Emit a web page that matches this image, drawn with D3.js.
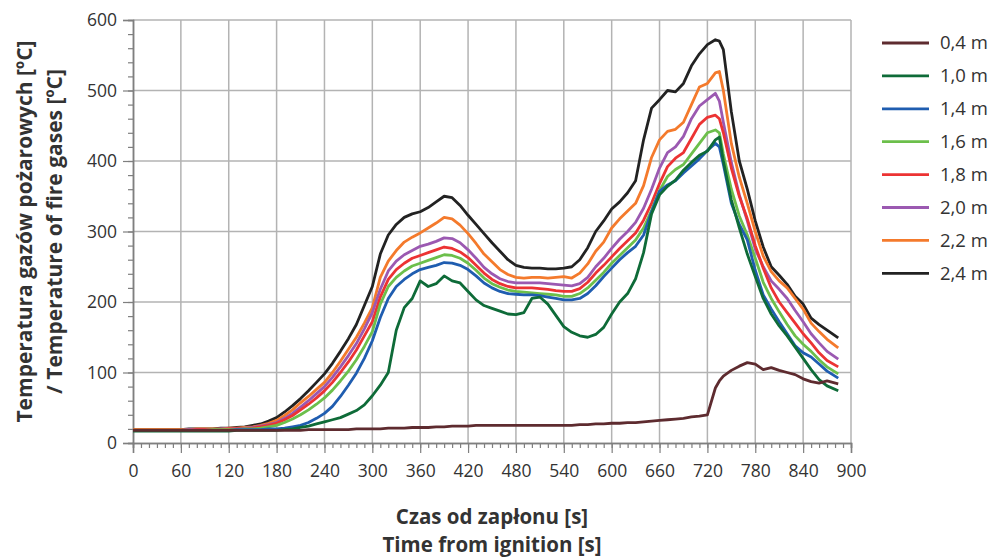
<!DOCTYPE html>
<html>
<head>
<meta charset="utf-8">
<script src="https://cdn.jsdelivr.net/npm/d3@7"></script>
<style>
  body { margin: 0; background: #fff; }
  svg text { font-family: 'Open Sans', 'Noto Sans', sans-serif; fill: #333; }
</style>
</head>
<body>
<div id="chart"></div>
<script>
// time samples [s]
const times = [
  0, 10, 20, 30, 40, 50, 60, 70, 80, 90, 100, 110, 120, 130, 140,
  150, 160, 170, 180, 190, 200, 210, 220, 230,
  240, 250, 260, 270, 280, 290, 300, 310, 320, 330,
  340, 350, 360, 370, 380, 390, 400, 410, 420, 430,
  440, 450, 460, 470, 480, 490, 500, 510, 520, 530,
  540, 550, 560, 570, 580, 590, 600, 610, 620, 630,
  640, 650, 660, 670, 680, 690, 700, 710, 720, 730, 735,
  740, 750, 760, 770, 780, 790, 800, 810, 820, 830, 840, 850, 860, 870, 884
]

const seriesNames = ['0,4 m', '1,0 m', '1,4 m', '1,6 m', '1,8 m', '2,0 m', '2,2 m', '2,4 m']
const seriesColors = ['#5e2b2f', '#0e6b38', '#1f5db0', '#6cbf4b', '#ec3333', '#9b59b1', '#f47a2c', '#222222']

const t04 = [
  18, 18, 18, 18, 18, 18, 18, 18, 18, 18, 18, 18, 18, 18, 18,
  18, 18, 18, 18, 18, 18, 18, 19, 19,
  19, 19, 19, 19, 20, 20, 20, 20, 21, 21,
  21, 22, 22, 22, 23, 23, 24, 24, 24, 25,
  25, 25, 25, 25, 25, 25, 25, 25, 25, 25,
  25, 25, 26, 26, 27, 27, 28, 28, 29, 29,
  30, 31, 32, 33, 34, 35, 37, 38, 40, 78, 88,
  95, 103, 109, 114, 112, 104, 107, 103, 100, 97, 91, 87, 85, 88, 84
]
const t10 = [
  17, 17, 17, 17, 17, 17, 17, 17, 17, 17, 17, 17, 17, 18, 18,
  18, 18, 18, 18, 19, 20, 22, 24, 27,
  30, 33, 36, 41, 46, 54, 67, 82, 100, 160,
  192, 205, 230, 222, 226, 237, 230, 227, 215, 203,
  195, 191, 187, 183, 182, 185, 205, 207, 197, 181,
  165, 157, 152, 150, 154, 164, 183, 200, 212, 233,
  270, 325, 352, 364, 373, 387, 398, 408, 414, 430, 434,
  400, 345, 305, 268, 236, 205, 183, 166, 152, 136, 120, 104, 90, 81, 74
]
const t14 = [
  18, 18, 18, 18, 18, 18, 18, 18, 18, 18, 18, 18, 18, 19, 19,
  19, 19, 20, 20, 21, 23, 25, 29, 35,
  42, 52, 66, 82, 99, 120, 145, 178, 205, 222,
  232, 240, 246, 249, 252, 256, 255, 252, 246, 237,
  227, 220, 215, 212, 211, 210, 210, 209, 207, 205,
  203, 203, 205, 212, 223, 236, 248, 260, 270, 279,
  295, 328, 357, 366, 372, 383, 393, 403, 415, 425, 420,
  395, 340, 310, 288, 245, 210, 190, 172, 155, 138, 128, 122, 112, 102, 92
]
const t16 = [
  18, 18, 18, 18, 18, 18, 18, 18, 18, 18, 19, 19, 19, 19, 20,
  20, 21, 23, 25, 29, 34, 40, 47, 55,
  64, 75, 88, 102, 118, 137, 158, 197, 222, 235,
  244, 251, 255, 259, 263, 267, 266, 262, 255, 245,
  234, 226, 221, 217, 215, 214, 213, 212, 211, 210,
  208, 208, 212, 220, 231, 242, 255, 266, 277, 288,
  305, 330, 358, 378, 388, 395, 410, 425, 440, 444, 440,
  410, 360, 322, 295, 262, 228, 205, 186, 168, 152, 140, 130, 118, 108, 98
]
const t18 = [
  18, 18, 18, 18, 18, 18, 18, 18, 19, 19, 19, 19, 20, 20, 20,
  21, 23, 25, 28, 33, 39, 47, 55, 64,
  74, 86, 100, 115, 132, 152, 172, 207, 232, 246,
  255, 262, 266, 270, 274, 278, 276, 271, 263, 252,
  241, 232, 226, 222, 220, 220, 220, 219, 218, 216,
  215, 215, 219, 228, 241, 252, 264, 276, 287, 298,
  316, 340, 368, 392, 404, 412, 432, 452, 462, 465, 460,
  440, 390, 350, 318, 280, 248, 220, 200, 185, 170, 155, 142, 128, 117, 108
]
const t20 = [
  18, 18, 18, 18, 18, 18, 18, 19, 19, 19, 19, 20, 20, 20, 21,
  22, 24, 26, 29, 35, 42, 51, 60, 70,
  80, 93, 108, 124, 141, 162, 185, 218, 244, 258,
  267, 273, 279, 282, 286, 291, 290, 284, 274, 262,
  249, 240, 233, 229, 227, 227, 227, 227, 226, 225,
  224, 223, 226, 235, 250, 262, 276, 289, 300, 313,
  333, 360, 390, 412, 420, 435, 460, 478, 487, 496, 485,
  455, 398, 352, 315, 275, 250, 230, 218, 205, 188, 172, 155, 142, 130, 119
]
const t22 = [
  19, 19, 19, 19, 19, 19, 19, 19, 20, 20, 20, 20, 21, 21, 22,
  23, 25, 28, 32, 39, 47, 57, 66, 76,
  86, 100, 116, 133, 150, 170, 192, 235, 258, 273,
  285, 292, 298, 305, 312, 320, 318, 309, 297, 283,
  268, 257, 246, 239, 235, 234, 235, 235, 234, 235,
  236, 234, 241, 254, 272, 285, 305, 318, 329, 340,
  365, 405, 430, 442, 445, 455, 480, 505, 510, 525, 527,
  500, 425, 377, 340, 300, 265, 243, 230, 220, 205, 190, 170, 158, 147, 135
]
const t24 = [
  19, 19, 19, 19, 19, 19, 19, 20, 20, 20, 20, 21, 21, 22, 23,
  25, 27, 31, 36, 44, 53, 63, 74, 86,
  98, 113, 130, 148, 168, 195, 222, 268, 295, 310,
  320, 325, 328, 334, 342, 350, 348, 337, 323, 310,
  297, 284, 272, 260, 252, 249, 248, 248, 247, 247,
  248, 250, 260, 277, 300, 315, 332, 342, 355, 372,
  430, 475, 487, 500, 498, 510, 535, 552, 565, 572, 570,
  558, 470, 400, 360, 315, 278, 250, 238, 225, 208, 197, 177, 168, 160, 149
]
const seriesValues = [t04, t10, t14, t16, t18, t20, t22, t24]

const xTicks = [0, 60, 120, 180, 240, 300, 360, 420, 480, 540, 600, 660, 720, 780, 840, 900]
const yTicks = [0, 100, 200, 300, 400, 500, 600]

const width = 993
const height = 558
const margin = { top: 20, right: 142, bottom: 115, left: 133 }
const innerW = width - margin.left - margin.right
const innerH = height - margin.top - margin.bottom

const svg = d3.select('#chart').append('svg')
  .attr('width', width)
  .attr('height', height)

const chart = svg.append('g')
  .attr('transform', `translate(${margin.left}, ${margin.top})`)

const x = d3.scaleLinear().domain([0, 900]).range([0, innerW])
const y = d3.scaleLinear().domain([0, 600]).range([innerH, 0])

// grid
chart.append('g')
  .selectAll('line')
  .data(xTicks.slice(1))
  .join('line')
  .attr('x1', d => x(d)).attr('x2', d => x(d))
  .attr('y1', 0).attr('y2', innerH)
  .attr('stroke', '#b3b3b3')
  .attr('stroke-width', 1.5)

chart.append('g')
  .selectAll('line')
  .data(yTicks.slice(1))
  .join('line')
  .attr('x1', 0).attr('x2', innerW)
  .attr('y1', d => y(d)).attr('y2', d => y(d))
  .attr('stroke', '#b3b3b3')
  .attr('stroke-width', 1.5)

// axes
const xMinor = d3.axisBottom(x).tickValues(d3.range(0, 901, 10)).tickSize(5).tickFormat('')
const xMajor = d3.axisBottom(x).tickValues(xTicks).tickSize(10).tickPadding(12)
const yMinor = d3.axisLeft(y).tickValues(d3.range(0, 601, 20)).tickSize(5).tickFormat('')
const yMajor = d3.axisLeft(y).tickValues(yTicks).tickSize(10).tickPadding(6)

function styleAxis (g) {
  g.select('.domain').attr('stroke', '#7f7f7f').attr('stroke-width', 1.5)
  g.selectAll('.tick line').attr('stroke', '#7f7f7f').attr('stroke-width', 1.2)
  g.selectAll('.tick text').attr('font-size', 17.5).attr('fill', '#333')
}

chart.append('g').attr('transform', `translate(0, ${innerH})`).call(xMinor).call(styleAxis)
chart.append('g').attr('transform', `translate(0, ${innerH})`).call(xMajor).call(styleAxis)
chart.append('g').call(yMinor).call(styleAxis)
chart.append('g').call(yMajor).call(styleAxis)

// lines (drawn from the top series down)
const line = d3.line()
  .x((d, i) => x(times[i]))
  .y(d => y(d))

for (let s = seriesValues.length - 1; s >= 0; s--) {
  chart.append('path')
    .datum(seriesValues[s])
    .attr('fill', 'none')
    .attr('stroke', seriesColors[s])
    .attr('stroke-width', 2.8)
    .attr('stroke-linejoin', 'round')
    .attr('d', line)
}

// legend
const legend = svg.append('g')
  .attr('transform', 'translate(882, 43)')

seriesNames.forEach((name, i) => {
  const row = legend.append('g').attr('transform', `translate(0, ${i * 32.9})`)
  row.append('line')
    .attr('x1', 0).attr('x2', 47)
    .attr('stroke', seriesColors[i])
    .attr('stroke-width', 2.8)
  row.append('text')
    .attr('x', 58)
    .attr('dy', '0.35em')
    .attr('font-size', 18.5)
    .text(name)
})

// axis titles
const xTitle = svg.append('text')
  .attr('text-anchor', 'middle')
  .attr('font-size', 20.5)
  .attr('font-weight', 'bold')
  .attr('fill', '#333')
xTitle.append('tspan').attr('x', margin.left + innerW / 2).attr('y', 524).text('Czas od zapłonu [s]')
xTitle.append('tspan').attr('x', margin.left + innerW / 2).attr('y', 552).text('Time from ignition [s]')

const yTitle = svg.append('text')
  .attr('text-anchor', 'middle')
  .attr('font-size', 21)
  .attr('font-weight', 'bold')
  .attr('transform', `translate(0, ${margin.top + innerH / 2}) rotate(-90)`)
yTitle.append('tspan').attr('x', 0).attr('y', 32).text('Temperatura gazów pożarowych [ºC]')
yTitle.append('tspan').attr('x', 0).attr('y', 62).text('/ Temperature of fire gases [ºC]')
</script>
</body>
</html>
